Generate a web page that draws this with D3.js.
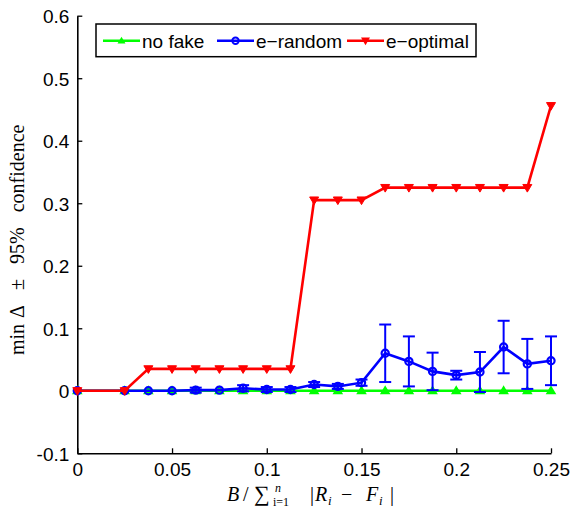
<!DOCTYPE html>
<html lang="en">
<head>
	<meta charset="UTF-8">
	<title>min delta chart</title>
	<script src="https://cdn.jsdelivr.net/npm/d3@7"></script>
	<style>
		body{
			margin: 0px;
			background: #fff;
		}
		text{
			font-family: "Liberation Sans", Arial, sans-serif;
		}
		.serif text, text.serif{
			font-family: "Liberation Serif", "Times New Roman", serif;
		}
	</style>
</head>
<body>
	<svg></svg>
	<script>
		// data
		var budget = [0, 0.025, 0.0375, 0.05, 0.0625, 0.075, 0.0875, 0.1, 0.1125, 0.125,
			0.1375, 0.15, 0.1625, 0.175, 0.1875, 0.2, 0.2125, 0.225, 0.2375, 0.25];
		var noFake = [0, 0, 0, 0, 0, 0, 0, 0, 0, 0, 0, 0, 0, 0, 0, 0, 0, 0, 0, 0];
		var eRandom = [0, 0, 0, 0, 0.001, 0.001, 0.004, 0.002, 0.002, 0.010,
			0.007, 0.013, 0.060, 0.047, 0.031, 0.025, 0.030, 0.070, 0.043, 0.048];
		var eRandomErr = [0, 0, 0, 0, 0.004, 0.001, 0.005, 0.004, 0.004, 0.004,
			0.004, 0.005, 0.046, 0.040, 0.030, 0.007, 0.032, 0.042, 0.040, 0.039];
		var eOptimal = [0, 0, 0.035, 0.035, 0.035, 0.035, 0.035, 0.035, 0.035, 0.305,
			0.305, 0.305, 0.325, 0.325, 0.325, 0.325, 0.325, 0.325, 0.325, 0.456];
		var xTicks = [0, 0.05, 0.1, 0.15, 0.2, 0.25];
		var yTicks = [-0.1, 0, 0.1, 0.2, 0.3, 0.4, 0.5, 0.6];
		var seriesNames = ["no fake", "e\u2212random", "e\u2212optimal"];

		var w = 574, h = 508;
		var svg = d3.select("svg").attr("width", w).attr("height", h);

		var x = d3.scaleLinear().domain([0, 0.25]).range([77.3, 551]);
		var y = d3.scaleLinear().domain([-0.1, 0.6]).range([453.3, 15.7]);

		var fmt = function(d) { return d === 0 ? "0" : String(+d.toFixed(2)); };

		// axes
		var xAxis = d3.axisBottom(x).tickValues(xTicks).tickFormat(fmt).tickSizeInner(-5).tickSizeOuter(0).tickPadding(9);
		var gx = svg.append("g").attr("transform", "translate(0," + y(-0.1) + ")").call(xAxis);
		var yAxis = d3.axisLeft(y).tickValues(yTicks).tickFormat(fmt).tickSizeInner(-5).tickSizeOuter(0).tickPadding(8);
		var gy = svg.append("g").attr("transform", "translate(" + x(0) + ",0)").call(yAxis);
		[gx, gy].forEach(function(g) {
			g.selectAll("text").attr("font-size", 19).attr("fill", "#000").style("font-family", '"Liberation Sans", Arial, sans-serif');
			g.selectAll("line").attr("stroke", "#000").attr("stroke-width", 1.3);
			g.select(".domain").attr("stroke", "#000").attr("stroke-width", 1.6);
		});
		gx.selectAll("text").attr("dy", "0.72em");
		gy.selectAll("text").attr("dy", "0.36em");

		var pts = function(vals) {
			return budget.map(function(b, i) { return [b, vals[i]]; });
		};
		var line = d3.line().x(function(d) { return x(d[0]); }).y(function(d) { return y(d[1]); });

		function triUp(cx, cy, s) {
			return "M" + cx + "," + (cy - s) + "L" + (cx + s) + "," + (cy + s * 0.7) + "L" + (cx - s) + "," + (cy + s * 0.7) + "Z";
		}
		function triDown(cx, cy, s) {
			return "M" + cx + "," + (cy + s) + "L" + (cx + s) + "," + (cy - s * 0.7) + "L" + (cx - s) + "," + (cy - s * 0.7) + "Z";
		}

		// no fake
		svg.append("path").attr("d", line(pts(noFake))).attr("fill", "none").attr("stroke", "#00ff00").attr("stroke-width", 2.6);
		svg.selectAll(".gm").data(pts(noFake)).enter().append("path").attr("class", "gm")
			.attr("d", function(d) { return triUp(x(d[0]), y(d[1]), 4); })
			.attr("fill", "#00ff00").attr("stroke", "#00ff00").attr("stroke-width", 1.5);

		// e-random with error bars
		var rnd = pts(eRandom);
		var eb = svg.append("g").attr("stroke", "#0000ff").attr("stroke-width", 2);
		rnd.forEach(function(d, i) {
			var e = eRandomErr[i];
			if (e < 0.002) return;
			var cx = x(d[0]), y1 = y(d[1] + e), y0 = y(d[1] - e);
			eb.append("line").attr("x1", cx).attr("x2", cx).attr("y1", y1).attr("y2", y0);
			eb.append("line").attr("x1", cx - 6).attr("x2", cx + 6).attr("y1", y1).attr("y2", y1);
			eb.append("line").attr("x1", cx - 6).attr("x2", cx + 6).attr("y1", y0).attr("y2", y0);
		});
		svg.append("path").attr("d", line(rnd)).attr("fill", "none").attr("stroke", "#0000ff").attr("stroke-width", 2.6);
		svg.selectAll(".bm").data(rnd).enter().append("circle").attr("class", "bm")
			.attr("cx", function(d) { return x(d[0]); }).attr("cy", function(d) { return y(d[1]); })
			.attr("r", 3.6).attr("fill", "none").attr("stroke", "#0000ff").attr("stroke-width", 2.2);

		// e-optimal
		svg.append("path").attr("d", line(pts(eOptimal))).attr("fill", "none").attr("stroke", "#ff0000").attr("stroke-width", 2.6);
		svg.selectAll(".rm").data(pts(eOptimal)).enter().append("path").attr("class", "rm")
			.attr("d", function(d) { return triDown(x(d[0]), y(d[1]), 4.5); })
			.attr("fill", "#ff0000").attr("stroke", "#ff0000").attr("stroke-width", 1);

		// legend
		var lg = svg.append("g");
		lg.append("rect").attr("x", 96).attr("y", 24).attr("width", 380).attr("height", 32.7)
			.attr("fill", "#fff").attr("stroke", "#000").attr("stroke-width", 1.5);
		var legendCols = ["#00ff00", "#0000ff", "#ff0000"];
		var legendX = [103, 217, 347];
		seriesNames.forEach(function(name, i) {
			var lx = legendX[i], ly = 40.7;
			lg.append("line").attr("x1", lx).attr("x2", lx + 37).attr("y1", ly).attr("y2", ly)
				.attr("stroke", legendCols[i]).attr("stroke-width", 2.4);
			if (i === 0) lg.append("path").attr("d", triUp(lx + 18.5, ly, 4)).attr("fill", legendCols[i]);
			if (i === 1) lg.append("circle").attr("cx", lx + 18.5).attr("cy", ly).attr("r", 3.2)
				.attr("fill", "none").attr("stroke", legendCols[i]).attr("stroke-width", 2);
			if (i === 2) lg.append("path").attr("d", triDown(lx + 18.5, ly, 4.5)).attr("fill", legendCols[i]);
			lg.append("text").attr("x", lx + 39).attr("y", 48).attr("font-size", 19).attr("fill", "#000").text(name);
		});

		// y label, math-style spacing between the pieces
		var yl = svg.append("text").attr("class", "serif")
			.attr("transform", "translate(24,355) rotate(-90)")
			.attr("font-size", 20).attr("fill", "#000");
		[["min", 0], ["\u0394", 6], ["\u00b1", 15], ["95%", 15], ["confidence", 15]].forEach(function(p) {
			yl.append("tspan").attr("dx", p[1]).text(p[0]);
		});

		// x label, pieces placed from the left edge of the label
		var xl = svg.append("g").attr("class", "serif").attr("transform", "translate(227,501)");
		var xParts = [
			["B", 0, 0, 20, true], ["/", 16, 0, 20, false], ["\u2211", 27, 0, 22, false],
			["n", 48, -9, 12, true], ["i=1", 46, 5, 12, false], ["|", 83, 0, 20, false],
			["R", 88, 0, 20, true], ["i", 101, 4, 13, true], ["\u2212", 114, 0, 20, false],
			["F", 139, 0, 20, true], ["i", 152, 4, 13, true], ["|", 163, 0, 20, false]
		];
		xParts.forEach(function(p) {
			xl.append("text").attr("x", p[1]).attr("y", p[2]).attr("font-size", p[3])
				.attr("font-style", p[4] ? "italic" : "normal").attr("fill", "#000").text(p[0]);
		});
	</script>
</body>
</html>
